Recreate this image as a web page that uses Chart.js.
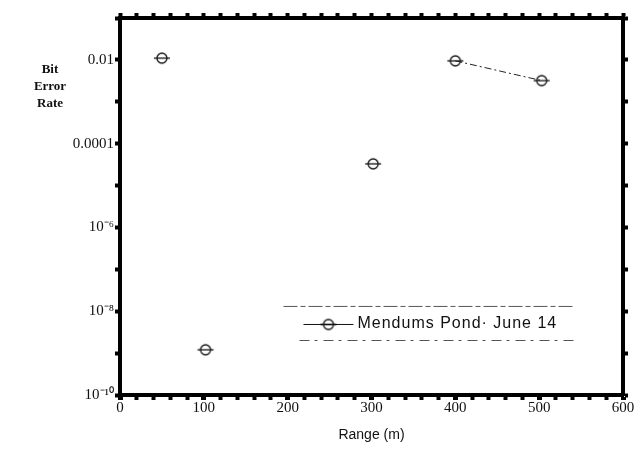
<!DOCTYPE html>
<html>
<head>
<meta charset="utf-8">
<title>Bit Error Rate vs Range</title>
<style>
  body { margin: 0; background: #fff; }
  #wrap { width: 640px; height: 464px; }
</style>
</head>
<body>
<div id="wrap"><canvas id="berChart" width="640" height="464"></canvas></div>
<script src="https://cdn.jsdelivr.net/npm/chart.js"></script>
<script>
// data
const ranges = [50, 102, 302, 400, 503];
const bitErrorRate = [0.011, 1.2e-9, 3.3e-5, 0.0095, 0.0032];
const seriesLabel = 'Mendums Pond· June 14';
// only the 400 m and 500 m runs are joined by a line
const joinedFrom = [400];

const yTickValues = [1e-10, 1e-9, 1e-8, 1e-7, 1e-6, 1e-5, 1e-4, 1e-3, 1e-2, 1e-1];
const yLabelExps = [-2, -4, -6, -8, -10];
const yLabelText = ['0.01', '0.0001', '10⁻⁶', '10⁻⁸', '10⁻¹⁰'];
const yTitleLines = ['Bit', 'Error', 'Rate'];

// marker: open circle with a bar through it
function makeMarker() {
  const c = document.createElement('canvas');
  c.width = 18; c.height = 14;
  const g = c.getContext('2d');
  g.strokeStyle = '#111';
  g.lineWidth = 1.3;
  g.beginPath(); g.arc(9, 7, 5, 0, Math.PI * 2); g.stroke();
  g.beginPath(); g.moveTo(1, 7); g.lineTo(17, 7); g.stroke();
  return c;
}
const marker = makeMarker();

function yLabel(v) {
  const e = Math.round(Math.log10(v));
  const i = yLabelExps.indexOf(e);
  return i >= 0 ? yLabelText[i] : '';
}
function setDecades(scale) {
  scale.ticks = yTickValues.map(v => ({ value: v }));
}

const serif = 'Liberation Serif';
const sans = 'Liberation Sans';

// horizontal y title + boxed legend inside the plot
const extras = {
  id: 'extras',
  afterDraw(chart) {
    const ctx = chart.ctx;
    ctx.save();
    ctx.fillStyle = '#111';
    ctx.font = 'bold 13px ' + serif;
    ctx.textAlign = 'center';
    ctx.textBaseline = 'middle';
    yTitleLines.forEach((t, i) => ctx.fillText(t, 50, 70 + i * 17));

    // legend
    const xs = chart.scales.x, ys = chart.scales.y;
    const lx = xs.getPixelForValue(195), rx = xs.getPixelForValue(542);
    const top = ys.getPixelForValue(1.3e-8), bot = ys.getPixelForValue(2e-9);
    const mid = (top + bot) / 2;
    ctx.strokeStyle = '#555';
    ctx.lineWidth = 1;
    ctx.setLineDash([14, 3, 5, 3]);
    ctx.beginPath(); ctx.moveTo(lx, top); ctx.lineTo(rx, top); ctx.stroke();
    ctx.setLineDash([10, 5, 3, 6]);
    ctx.beginPath(); ctx.moveTo(lx + 16, bot); ctx.lineTo(rx, bot); ctx.stroke();
    ctx.setLineDash([]);
    ctx.strokeStyle = '#111';
    ctx.beginPath(); ctx.moveTo(lx + 20, mid + 1); ctx.lineTo(lx + 70, mid + 1); ctx.stroke();
    ctx.drawImage(marker, lx + 36, mid - 6);
    ctx.font = '16px ' + sans;
    ctx.letterSpacing = '1px';
    ctx.textAlign = 'left';
    ctx.fillText(chart.data.datasets[0].label, lx + 74, mid);
    ctx.restore();
  }
};

const tickGrid = {
  drawOnChartArea: false,
  drawTicks: true,
  tickLength: 5,
  tickColor: '#000',
  tickWidth: 4
};

new Chart(document.getElementById('berChart'), {
  type: 'line',
  data: {
    datasets: [{
      label: seriesLabel,
      data: ranges.map((r, i) => ({ x: r, y: bitErrorRate[i] })),
      borderColor: '#222',
      borderWidth: 1,
      borderDash: [7, 3, 2, 3],
      pointStyle: marker,
      pointRadius: 7,
      segment: {
        borderColor: c => joinedFrom.includes(c.p0.parsed.x) ? '#222' : 'transparent'
      }
    }]
  },
  options: {
    responsive: false,
    animation: false,
    layout: { padding: { top: 16, right: 0, bottom: 20, left: 0 } },
    plugins: { legend: { display: false }, tooltip: { enabled: false } },
    scales: {
      x: {
        type: 'linear', min: 0, max: 600, position: 'bottom',
        border: { color: '#000', width: 4 },
        grid: Object.assign({}, tickGrid, { tickWidth: c => c.tick && c.tick.value % 100 === 0 ? 5 : 4 }),
        ticks: {
          stepSize: 20, autoSkip: false, maxRotation: 0, padding: -1,
          color: '#111', font: { family: serif, size: 15 },
          callback: v => v % 100 === 0 ? String(v) : ''
        },
        title: {
          display: true, text: 'Range (m)', color: '#111',
          font: { family: sans, size: 14 }, padding: { top: 14, bottom: 0 }
        },
        afterFit: s => { s.height = 49; }
      },
      x2: {
        type: 'linear', min: 0, max: 600, position: 'top',
        border: { color: '#000', width: 4 },
        grid: tickGrid,
        ticks: { stepSize: 20, autoSkip: false, display: false },
        afterFit: s => { s.height = 2; }
      },
      y: {
        type: 'logarithmic', min: 1e-10, max: 1e-1, position: 'left',
        border: { color: '#000', width: 4 },
        grid: tickGrid,
        afterBuildTicks: setDecades,
        ticks: {
          autoSkip: false, padding: 1,
          color: '#111', font: { family: serif, size: 15 },
          callback: v => yLabel(v)
        },
        afterFit: s => { s.width = 120; }
      },
      y2: {
        type: 'logarithmic', min: 1e-10, max: 1e-1, position: 'right',
        border: { color: '#000', width: 4 },
        grid: tickGrid,
        afterBuildTicks: setDecades,
        ticks: { display: false },
        afterFit: s => { s.width = 17; }
      }
    }
  },
  plugins: [extras]
});
</script>
</body>
</html>
